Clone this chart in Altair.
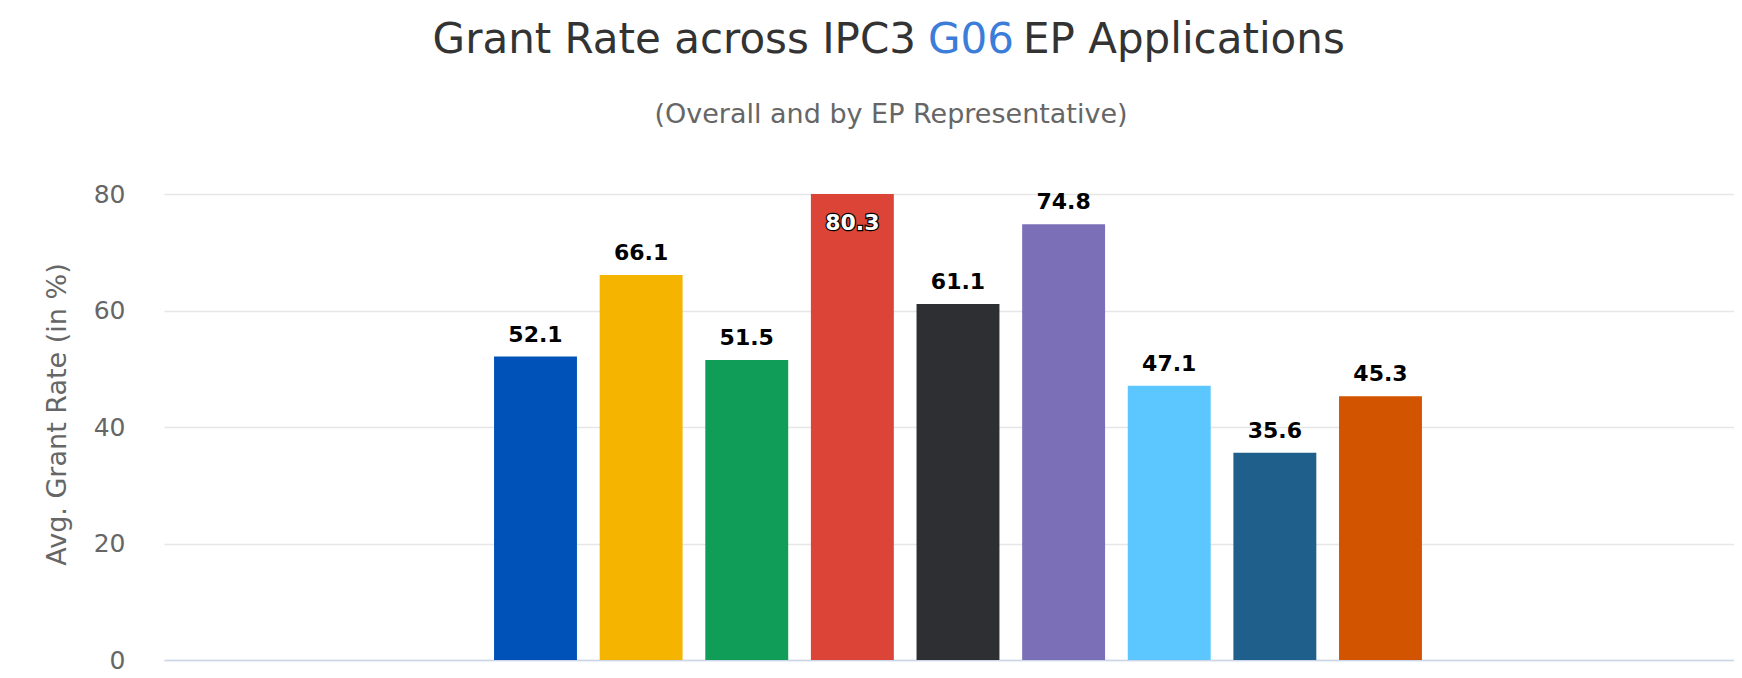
import altair as alt
import pandas as pd

# ---- data ----
group = ["G06"] * 9
series = ["Overall", "Rep. 1", "Rep. 2", "Rep. 3", "Rep. 4", "Rep. 5", "Rep. 6", "Rep. 7", "Rep. 8"]
grant_rate = [52.1, 66.1, 51.5, 80.3, 61.1, 74.8, 47.1, 35.6, 45.3]
bar_colors = ["#0052b9", "#f4b400", "#0f9d58", "#db4437", "#2e2f33",
              "#7b6fb8", "#5cc6ff", "#1f5f8b", "#d35400"]
y_ticks = [0, 20, 40, 60, 80]
y_max = 80
title_parts = ["Grant Rate across IPC3", "G06", "EP Applications"]
subtitle_text = "(Overall and by EP Representative)"
y_title = "Avg. Grant Rate (in %)"

FONT = "DejaVu Sans"
W, H = 1570, 466

df = pd.DataFrame({"group": group, "series": series, "rate": grant_rate})

x_scale = alt.Scale(paddingInner=0, paddingOuter=0.346, align=0.514)
off_scale = alt.Scale(domain=series, paddingInner=0.215, paddingOuter=0)
y_scale = alt.Scale(domain=[0, y_max], nice=False)

x_axis = alt.Axis(labels=False, ticks=False, title=None, grid=False,
                  domainColor="#ccd6eb", domainWidth=1.5)
y_axis = alt.Axis(values=y_ticks, title=y_title, ticks=False, domain=False,
                  labelFontSize=25, labelColor="#666666", labelFont=FONT,
                  labelPadding=39, gridColor="#e6e6e6", gridWidth=1.5,
                  titleFont=FONT, titleFontSize=27, titleColor="#666666",
                  titleFontWeight="normal", titleAngle=270, titleX=-99,
                  titleY=220, titleAlign="center", titleBaseline="alphabetic")

base = alt.Chart(df)


def enc(yfield, text=False):
    d = dict(
        x=alt.X("group:N", scale=x_scale, axis=x_axis),
        xOffset=alt.XOffset("series:N", sort=series, scale=off_scale),
        y=alt.Y(yfield, scale=y_scale, axis=y_axis, title=y_title),
    )
    if text:
        d["text"] = alt.Text("rate:Q", format=".1f")
    return d


bars = base.mark_bar(clip=True).encode(
    color=alt.Color("series:N", scale=alt.Scale(domain=series, range=bar_colors), legend=None),
    **enc("rate:Q"),
)

labels_out = base.transform_filter(alt.datum.rate <= y_max).mark_text(
    baseline="alphabetic", dy=-15, fontSize=22, fontWeight="bold", font=FONT, color="#000000"
).encode(**enc("rate:Q", text=True))

inside = base.transform_filter(alt.datum.rate > y_max).transform_calculate(
    rate_shown=f"min(datum.rate, {y_max})"
)
labels_in_outline = inside.mark_text(
    baseline="top", dy=19, fontSize=22, fontWeight="bold", font=FONT,
    fill="#000000", stroke="#000000", strokeWidth=2.5
).encode(**enc("rate_shown:Q", text=True))
labels_in = inside.mark_text(
    baseline="top", dy=19, fontSize=22, fontWeight="bold", font=FONT, fill="#ffffff"
).encode(**enc("rate_shown:Q", text=True))

one = alt.Data(values=[{"k": 1}])
t1 = alt.Chart(one).mark_text(text=title_parts[0], align="right", baseline="alphabetic",
                              fontSize=42, font=FONT, color="#333333").encode(
    x=alt.value(752), y=alt.value(-141))
t2 = alt.Chart(one).mark_text(text=title_parts[1], align="center", baseline="alphabetic",
                              fontSize=42, font=FONT, color="#3b7dd8").encode(
    x=alt.value(807), y=alt.value(-141))
t3 = alt.Chart(one).mark_text(text=title_parts[2], align="left", baseline="alphabetic",
                              fontSize=42, font=FONT, color="#333333").encode(
    x=alt.value(859), y=alt.value(-141))
sub = alt.Chart(one).mark_text(text=subtitle_text, align="center", baseline="alphabetic",
                               fontSize=27, font=FONT, color="#666666").encode(
    x=alt.value(727), y=alt.value(-71))

chart = alt.layer(bars, labels_out, labels_in_outline, labels_in, t1, t2, t3, sub).properties(
    width=W, height=H,
    background="#ffffff",
    autosize=alt.AutoSizeParams(type="none"),
    padding={"left": 156, "top": 186, "right": 0, "bottom": 15},
).configure_view(stroke=None)

chart.save("out.html", embed_options={"renderer": "svg", "actions": False})
